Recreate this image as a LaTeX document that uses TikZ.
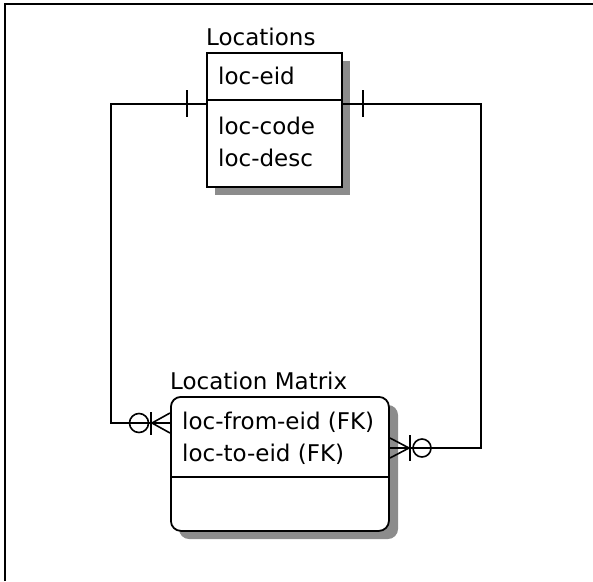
\documentclass[tikz,border=0pt]{standalone}
\usepackage{fontspec}
\setmainfont{DejaVu Sans}
\begin{document}
\begin{tikzpicture}[x=1pt,y=-1pt,
  every node/.style={font=\fontsize{23}{30}\selectfont, inner sep=0pt, anchor=base west},
  conn/.style={line width=1.6pt, black},
  boxline/.style={line width=1.8pt, black},
  shade/.style={fill=black!45, draw=none}]
\useasboundingbox (0,0) rectangle (593,581);
% frame
\draw[line width=2.6pt] (5,581) -- (5,4) -- (593,4);

% ---- Locations entity
\fill[shade] (215,61) rectangle (350,195);
\node[draw, boxline, fill=white, anchor=north west, minimum width=135pt, minimum height=134pt] (loc) at (206,52) {};
\draw[boxline] (206,100) -- (341,100);
\node (loctitle) at (206,45) {Locations};
\node (loceid) at (218,84) {loc-eid};
\node (loccode) at (218,134) {loc-code};
\node (locdesc) at (218,166) {loc-desc};

% ---- Location Matrix entity
\fill[shade, rounded corners=10pt] (179,405) rectangle (398,539);
\node[draw, boxline, fill=white, rounded corners=10pt, anchor=north west, minimum width=218pt, minimum height=134pt] (mat) at (170,396) {};
\draw[boxline] (170,477) -- (388,477);
\node (mattitle) at (170,389) {Location Matrix};
\node (matfrom) at (182,429) {loc-from-eid (FK)};
\node (matto) at (182,461) {loc-to-eid (FK)};

% ---- connector coordinates
\coordinate (la) at (206,104);
\coordinate (lb) at (111,104);
\coordinate (lc) at (111,423);
\coordinate (ld) at (170,423);
\coordinate (ra) at (341,104);
\coordinate (rb) at (481,104);
\coordinate (rc) at (481,448);
\coordinate (rd) at (388,448);

% left relationship
\draw[conn] (la) -- (lb) -- (lc) -- (ld);
\draw[conn] (187,90) -- (187,117);
\draw[conn, fill=white] (139,423) circle (9.5pt);
\draw[conn] (129,423) -- (ld);
\draw[conn] (151,412) -- (151,435);
\draw[conn] (152,423) -- (170,413);
\draw[conn] (152,423) -- (170,433);

% right relationship
\draw[conn] (ra) -- (rb) -- (rc) -- (rd);
\draw[conn] (363,90) -- (363,117);
\draw[conn, fill=white] (422,448) circle (9pt);
\draw[conn] (rd) -- (431,448);
\draw[conn] (410,435) -- (410,461);
\draw[conn] (409,448) -- (390,438);
\draw[conn] (409,448) -- (390,458);
\end{tikzpicture}
\end{document}
